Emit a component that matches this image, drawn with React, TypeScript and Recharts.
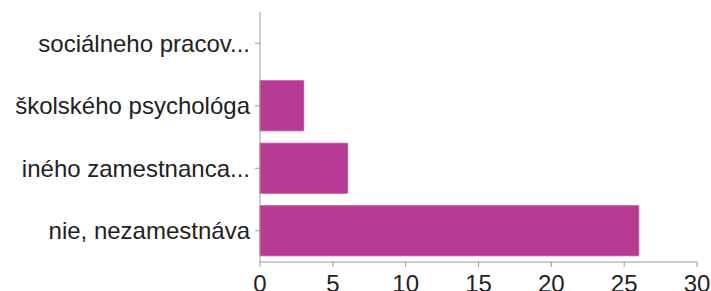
import React from "react";
import { BarChart, Bar, XAxis, YAxis } from "recharts";

const categories = ["sociálneho pracov...", "školského psychológa", "iného zamestnanca...", "nie, nezamestnáva"];
const counts = [0, 3, 6, 26];
const xTicks = [0, 5, 10, 15, 20, 25, 30];

const data = categories.map((name, i) => ({ name, value: counts[i] }));

export default function App() {
  return (
    <div style={{ position: "absolute", left: 0, top: 0, background: "#fff" }}>
      <BarChart
        width={711}
        height={291}
        data={data}
        layout="vertical"
        margin={{ top: 12, right: 14, bottom: 0, left: 0 }}
        barCategoryGap="10%"
      >
        <XAxis
          type="number"
          domain={[0, 30]}
          ticks={xTicks}
          height={29}
          axisLine={{ stroke: "#9a9a9a" }}
          tickLine={{ stroke: "#9a9a9a" }}
          tickSize={5}
          tickMargin={8}
          interval={0}
          tick={{ fill: "#222", fontSize: 24, fontFamily: "Liberation Sans, Arial, sans-serif" }}
        />
        <YAxis
          type="category"
          dataKey="name"
          width={260}
          axisLine={{ stroke: "#9a9a9a" }}
          tickLine={{ stroke: "#9a9a9a" }}
          tickSize={5}
          tickMargin={5}
          interval={0}
          tick={{ fill: "#222", fontSize: 24, fontFamily: "Liberation Sans, Arial, sans-serif" }}
        />
        <Bar dataKey="value" fill="#b83a93" stroke="#c24d9e" strokeWidth={1} isAnimationActive={false} />
      </BarChart>
    </div>
  );
}
